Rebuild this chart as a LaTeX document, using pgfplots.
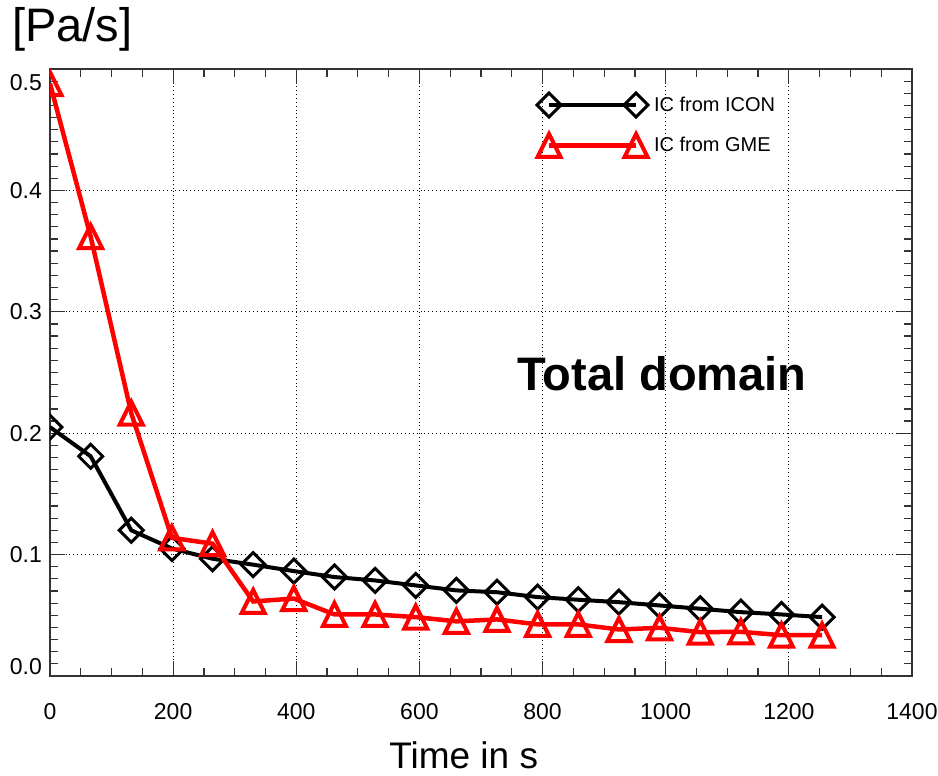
\documentclass[border=0pt]{standalone}
\usepackage{pgfplots}
\pgfplotsset{compat=1.18}
\usepackage{fontspec}
\setmainfont{Liberation Sans}

\pgfdeclareplotmark{idldiamond}{%
  \pgfpathmoveto{\pgfqpoint{0pt}{\pgfplotmarksize}}%
  \pgfpathlineto{\pgfqpoint{\pgfplotmarksize}{0pt}}%
  \pgfpathlineto{\pgfqpoint{0pt}{-\pgfplotmarksize}}%
  \pgfpathlineto{\pgfqpoint{-\pgfplotmarksize}{0pt}}%
  \pgfpathclose\pgfusepathqstroke}
\pgfdeclareplotmark{idltriangle}{%
  \pgfpathmoveto{\pgfqpoint{0pt}{\pgfplotmarksize}}%
  \pgfpathlineto{\pgfqpoint{\pgfplotmarksize}{-\pgfplotmarksize}}%
  \pgfpathlineto{\pgfqpoint{-\pgfplotmarksize}{-\pgfplotmarksize}}%
  \pgfpathclose\pgfusepathqstroke}

\begin{document}
\begin{tikzpicture}
\begin{axis}[name=ax, scale only axis, width=862pt, height=607pt,
  xmin=0, xmax=1400, ymin=0, ymax=0.5,
  xtick={0,200,400,600,800,1000,1200,1400},
  ytick={0,0.1,0.2,0.3,0.4,0.5},
  yticklabels={\raisebox{9pt}[\height][\depth]{0.0},0.1,0.2,0.3,0.4,\raisebox{-14pt}[\height][\depth]{0.5}},
  minor x tick num=3, minor y tick num=9,
  major tick length=15pt, minor tick length=8pt,
  grid=major,
  grid style={black, line width=0.9pt, dash pattern=on 0.9pt off 3pt},
  axis line style={black!80, line width=1.3pt},
  every tick/.style={black!80, line width=1.2pt},
  tick label style={font=\fontsize{23}{23}\selectfont},
  xticklabel style={anchor=base, yshift=-44pt, inner sep=0pt},
  yticklabel style={anchor=east, xshift=-8pt, inner sep=0pt},
  /pgf/number format/1000 sep={}, /pgf/number format/assume math mode=true,
  xlabel={Time in s},
  xlabel style={at={(axis description cs:0.48,0)}, anchor=base, yshift=-93pt, font=\fontsize{37}{37}\selectfont, inner sep=0pt},
  ylabel={{[Pa/s]}},
  ylabel style={rotate=-90, at={(axis description cs:0,1)}, anchor=base west, xshift=-38pt, yshift=27pt, font=\fontsize{47}{47}\selectfont, inner sep=0pt},
  clip marker paths=true,
  legend image code/.code={\draw[#1] plot coordinates {(0pt,0pt) (87pt,0pt)};},
  legend style={draw=none, fill=none, at={(axis description cs:0.565,0.9605)}, anchor=north west, inner sep=0pt, outer sep=0pt, row sep=17pt, column sep=6pt, font=\fontsize{20}{20}\selectfont, nodes={inner sep=0pt}},
  legend cell align=left,
]
\addplot[black, line width=4pt, mark=idldiamond, mark size=12pt, mark options={solid, line width=3pt}] coordinates {
(0,0.205) (66,0.181) (132,0.120) (198,0.105) (264,0.0966) (330,0.0917) (396,0.0864) (462,0.0815) (528,0.0787) (594,0.0746)
(660,0.0705) (726,0.069) (792,0.065) (858,0.0628) (924,0.0608) (990,0.0581) (1056,0.0554) (1122,0.0526) (1188,0.0507) (1254,0.0485)};
\addlegendentry{IC from ICON}
\addplot[red, line width=4.5pt, mark=idltriangle, mark size=11.5pt, mark options={solid, line width=4pt}] coordinates {
(0,0.488) (66,0.362) (132,0.2165) (198,0.1138) (264,0.109) (330,0.0614) (396,0.0638) (462,0.0507) (528,0.0507) (594,0.0485)
(660,0.045) (726,0.0466) (792,0.0425) (858,0.0425) (924,0.0383) (990,0.0397) (1056,0.0361) (1122,0.0364) (1188,0.0336) (1254,0.0336)};
\addlegendentry{IC from GME}
\node[anchor=base, font=\bfseries\fontsize{47}{47}\selectfont, inner sep=0pt] at (axis cs:994,0.2354) {Total domain};
\end{axis}
\pgfresetboundingbox
\path[use as bounding box] ([xshift=-50pt,yshift=-100pt]ax.south west) rectangle ([xshift=888pt,yshift=676pt]ax.south west);
\end{tikzpicture}
\end{document}
